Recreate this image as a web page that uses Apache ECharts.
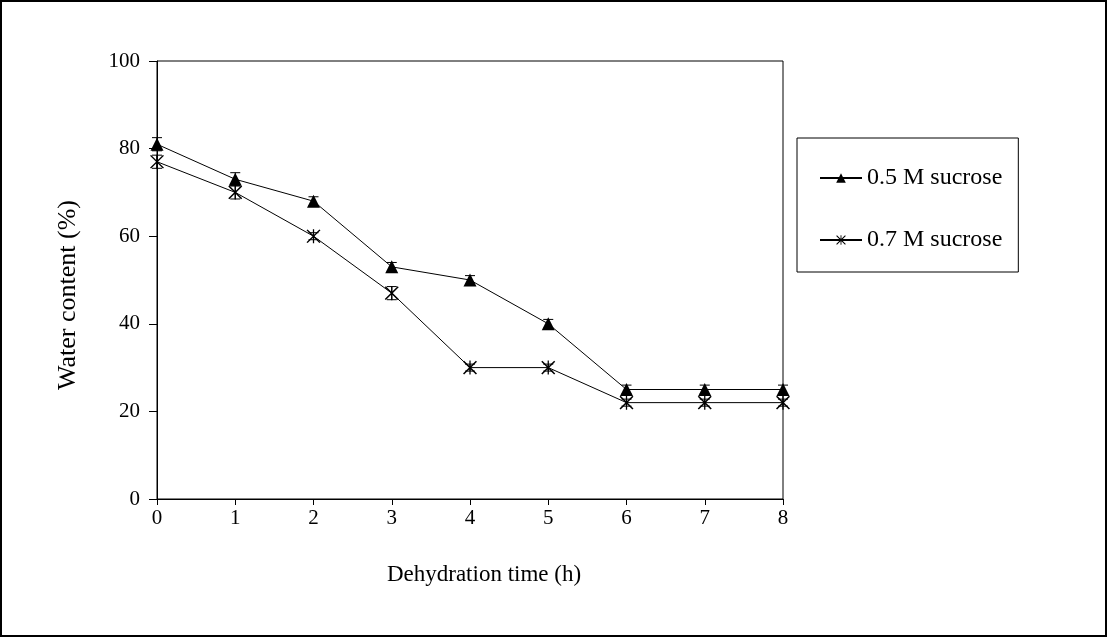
<!DOCTYPE html>
<html><head><meta charset="utf-8">
<script src="https://cdn.jsdelivr.net/npm/echarts@6/dist/echarts.min.js"></script>
<style>
html,body{margin:0;padding:0;background:#fff;}
#c{width:1107px;height:637px;box-sizing:border-box;border:2px solid #000;}
</style></head>
<body><div id="c"></div>
<script>
const hours = [0,1,2,3,4,5,6,7,8];
const yTicks = [0,20,40,60,80,100];
const seriesNames = ['0.5 M sucrose','0.7 M sucrose'];
const sucrose05 = [81,73,68,53,50,40,25,25,25];
const sucrose05Err = [1.5,1.5,1,1,1,1,1,1,1];
const sucrose07 = [77,70,60,47,30,30,22,22,22];
const sucrose07Err = [1.5,1.5,0.8,1.5,0.8,0.8,0.8,0.8,0.8];

const starPath = 'path://M9.2,0 L10.8,0 L10.8,20 L9.2,20 Z M1.2,1.5 L2.6,0.3 L18.8,18.5 L17.4,19.7 Z M17.4,0.3 L18.8,1.5 L2.6,19.7 L1.2,18.5 Z';

function errData(vals, errs){ return hours.map((h,i)=>[h, vals[i]-errs[i], vals[i]+errs[i]]); }
function errRender(params, api){
  const x = api.value(0);
  const lo = api.coord([x, api.value(1)]);
  const hi = api.coord([x, api.value(2)]);
  const w = 5;
  const st = {stroke:'#000', lineWidth:1};
  return {type:'group', children:[
    {type:'line', shape:{x1:lo[0],y1:lo[1],x2:hi[0],y2:hi[1]}, style:st},
    {type:'line', shape:{x1:hi[0]-w,y1:hi[1],x2:hi[0]+w,y2:hi[1]}, style:st},
    {type:'line', shape:{x1:lo[0]-w,y1:lo[1],x2:lo[0]+w,y2:lo[1]}, style:st}
  ]};
}

const font = "'Liberation Serif','Times New Roman',serif";
const chart = echarts.init(document.getElementById('c'));
chart.setOption({
  animation:false,
  backgroundColor:'#fff',
  textStyle:{fontFamily:font},
  grid:{left:155, top:59, right:322, bottom:136, show:true, borderColor:'#000', borderWidth:1, backgroundColor:'transparent'},
  xAxis:{type:'value', min:0, max:8, interval:1,
    name:'Dehydration time (h)', nameLocation:'middle', nameGap:64,
    nameTextStyle:{fontFamily:font, fontSize:23, color:'#000', padding:[0,0,0,28]},
    axisLine:{show:true, onZero:false, lineStyle:{color:'#000', width:1}},
    axisTick:{show:true, inside:false, length:6, lineStyle:{color:'#000'}},
    axisLabel:{fontFamily:font, fontSize:21, color:'#000', margin:9},
    splitLine:{show:false}},
  yAxis:{type:'value', min:0, max:100, interval:20,
    name:'Water content (%)', nameLocation:'middle', nameGap:76,
    nameTextStyle:{fontFamily:font, fontSize:26, color:'#000', padding:[0,30,0,0]},
    axisLine:{show:true, lineStyle:{color:'#000', width:1}},
    axisTick:{show:true, inside:false, length:8, lineStyle:{color:'#000'}},
    axisLabel:{fontFamily:font, fontSize:21, color:'#000', margin:17,
      formatter:v=>yTicks.includes(v)?String(v):''},
    splitLine:{show:false}},
  legend:{orient:'vertical', left:795, top:136, itemWidth:42, itemHeight:12, itemGap:38,
    padding:[28,16,20,22], borderColor:'#000', borderWidth:1, backgroundColor:'#fff',
    textStyle:{fontFamily:font, fontSize:24, color:'#000'},
    data:seriesNames},
  series:[
    {type:'custom', name:'err05', renderItem:errRender, data:errData(sucrose05,sucrose05Err), z:3, silent:true},
    {type:'custom', name:'err07', renderItem:errRender, data:errData(sucrose07,sucrose07Err), z:3, silent:true},
    {type:'line', name:seriesNames[0], data:hours.map((h,i)=>[h,sucrose05[i]]),
      symbol:'triangle', symbolSize:[13,13], color:'#000',
      itemStyle:{color:'#000', borderWidth:0},
      lineStyle:{color:'#000', width:1}, z:4},
    {type:'line', name:seriesNames[1], data:hours.map((h,i)=>[h,sucrose07[i]]),
      symbol:starPath, symbolSize:[14,14], color:'#000',
      itemStyle:{color:'#000', borderWidth:0},
      lineStyle:{color:'#000', width:1}, z:4}
  ]
});
</script></body></html>
